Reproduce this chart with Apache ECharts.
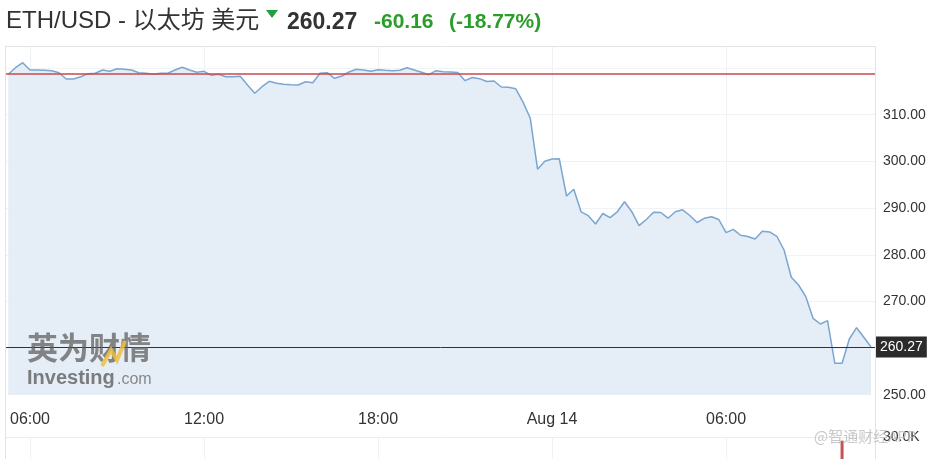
<!DOCTYPE html>
<html>
<head>
<meta charset="utf-8">
<script src="https://cdn.jsdelivr.net/npm/echarts@6/dist/echarts.min.js"></script>
<style>
html,body{margin:0;padding:0;background:#fff;}
#chart{width:940px;height:459px;}
</style>
</head>
<body>
<div id="chart"></div>
<script>
// 15分钟收盘价，8月13日 05:15 开始
const startHour = 5.25
const stepHour = 0.25
const prices = [
  318.66, 320.07, 321.14, 319.58, 319.58, 319.51, 319.43, 319.00, 317.65, 317.65,
  318.14, 318.79, 318.87, 319.58, 319.30, 319.86, 319.73, 319.58, 319.00, 318.87,
  318.66, 318.87, 318.87, 319.58, 320.16, 319.58, 319.09, 319.30, 318.44, 318.66,
  318.12, 318.14, 318.23, 316.37, 314.59, 316.00, 317.16, 316.73, 316.52, 316.43,
  316.37, 317.07, 316.86, 318.87, 319.00, 317.80, 318.29, 319.15, 319.73, 319.58,
  319.30, 319.64, 319.51, 319.43, 319.51, 320.07, 319.58, 319.09, 318.57, 319.43,
  319.22, 319.15, 319.04, 317.29, 317.97, 317.72, 317.12, 317.22, 315.94, 315.90,
  315.55, 312.69, 309.24, 298.34, 300.05, 300.52, 300.57, 292.60, 294.04, 289.22,
  288.39, 286.61, 288.86, 287.96, 289.22, 291.38, 289.24, 286.25, 287.57, 289.14,
  289.07, 287.85, 289.22, 289.65, 288.43, 286.93, 287.83, 288.17, 287.57, 284.75,
  285.47, 284.19, 283.93, 283.40, 285.07, 284.90, 283.98, 281.04, 275.20, 273.55,
  271.04, 266.42, 265.20, 265.91, 256.79, 256.79, 261.99, 264.41, 262.35, 260.27
]
const prevClose = 318.72
const lastPrice = 260.27
const xTickHours = [6, 12, 18, 24, 30]
const xTickLabels = ['06:00', '12:00', '18:00', 'Aug 14', '06:00']
const yTicks = [250, 260, 270, 280, 290, 300, 310]
const yGridLines = [260, 270, 280, 290, 300, 310, 320]
const volumeHours = [34.0]
const volumes = [25000]

const font = 'Liberation Sans, Arial, Noto Sans CJK SC, sans-serif'
const green = '#2a9d2a'

let chart = echarts.init(document.getElementById('chart'))
chart.setOption({
  animation: false,
  grid: [
    {left: 5, right: 64, top: 47, bottom: 64},
    {left: 5, right: 64, top: 437, height: 60}
  ],
  xAxis: [{
    gridIndex: 0,
    type: 'value',
    min: 5.138,
    max: 35.17,
    axisLine: {show: false},
    axisTick: {show: false, customValues: xTickHours},
    axisLabel: {
      customValues: xTickHours,
      formatter: v => xTickLabels[xTickHours.indexOf(v)],
      color: '#333',
      fontSize: 16,
      fontFamily: font,
      margin: 17
    },
    splitLine: {show: true, lineStyle: {color: '#eef1f5'}}
  }, {
    gridIndex: 1,
    type: 'value',
    min: 5.138,
    max: 35.17,
    axisLine: {show: false},
    axisTick: {show: false, customValues: xTickHours},
    axisLabel: {show: false},
    splitLine: {show: true, lineStyle: {color: '#eef1f5'}}
  }],
  yAxis: [{
    gridIndex: 0,
    type: 'value',
    position: 'right',
    min: 250,
    max: 324.5,
    axisLine: {show: false},
    axisTick: {show: false, customValues: yGridLines},
    axisLabel: {
      customValues: yTicks,
      formatter: v => v.toFixed(2),
      color: '#333',
      fontSize: 14,
      fontFamily: font,
      margin: 7
    },
    splitLine: {lineStyle: {color: '#f1f2f4'}}
  }, {
    gridIndex: 1,
    type: 'value',
    position: 'right',
    min: 0,
    max: 30000,
    axisLine: {show: false},
    axisTick: {show: false, customValues: [30000]},
    axisLabel: {
      customValues: [30000],
      formatter: () => '30.0K',
      color: '#333',
      fontSize: 14,
      fontFamily: font,
      margin: 7
    },
    splitLine: {lineStyle: {color: '#ededed'}}
  }],
  series: [{
    type: 'line',
    data: prices.map((v, i) => [startHour + i * stepHour, v]),
    showSymbol: false,
    lineStyle: {color: '#7aa6d1', width: 1.5},
    itemStyle: {color: '#7aa6d1'},
    areaStyle: {color: '#e5edf6', origin: 'start', opacity: 1},
    markLine: {
      silent: true,
      symbol: 'none',
      data: [{
        yAxis: prevClose,
        lineStyle: {color: '#c9484b', width: 1.5, type: 'solid'},
        label: {show: false}
      }, {
        yAxis: lastPrice,
        lineStyle: {color: '#333', width: 1, type: 'solid'},
        label: {
          show: true,
          position: 'end',
          formatter: lastPrice.toFixed(2),
          backgroundColor: '#2b2b2b',
          color: '#fff',
          fontSize: 14,
          fontFamily: font,
          padding: [4, 4, 3, 4],
          distance: 0
        }
      }]
    }
  }, {
    type: 'bar',
    xAxisIndex: 1,
    yAxisIndex: 1,
    data: volumeHours.map((h, i) => [h, volumes[i]]),
    barWidth: 3,
    itemStyle: {color: '#c65353'}
  }],
  graphic: [
    {type: 'rect', silent: true, z: 10, shape: {x: 5.5, y: 46.5, width: 870, height: 430},
      style: {fill: 'none', stroke: '#e3e3e3', lineWidth: 1}},
    {type: 'text', left: 6, top: 9, style: {text: 'ETH/USD - 以太坊 美元', fontSize: 24, fontFamily: font, fill: '#333'}},
    {type: 'polygon', shape: {points: [[266, 10], [278, 10], [272, 18]]}, style: {fill: '#1e9e3c'}},
    {type: 'text', left: 287, top: 11, style: {text: '260.27', fontSize: 23, fontWeight: 'bold', fontFamily: font, fill: '#333'}},
    {type: 'text', left: 374, top: 12, style: {text: '-60.16', fontSize: 21, fontWeight: 'bold', fontFamily: font, fill: green}},
    {type: 'text', left: 449, top: 12, style: {text: '(-18.77%)', fontSize: 21, fontWeight: 'bold', fontFamily: font, fill: green}},
    // 英为财情 水印
    {type: 'text', z: 6, left: 27, top: 332, style: {text: '英为财情', fontSize: 31, fontWeight: 'bold', fontFamily: 'Noto Sans CJK SC', fill: 'rgba(95,95,95,0.75)'}},
    {type: 'polyline', z: 7, shape: {points: [[102, 366], [111, 350], [117, 360], [125, 341]]}, style: {stroke: 'rgba(240,190,60,0.85)', lineWidth: 4}},
    {type: 'text', z: 6, left: 27, top: 368, style: {text: 'Investing', fontSize: 20, fontWeight: 'bold', fontFamily: font, fill: 'rgba(95,95,95,0.8)'}},
    {type: 'text', z: 6, left: 117, top: 372, style: {text: '.com', fontSize: 16, fontFamily: font, fill: 'rgba(110,110,110,0.8)'}},
    {type: 'text', z: 20, left: 814, top: 429, style: {text: '@智通财经APP', fontSize: 15, fontFamily: 'Noto Sans CJK SC', fill: 'rgba(190,190,190,0.85)'}}
  ]
})
</script>
</body>
</html>
